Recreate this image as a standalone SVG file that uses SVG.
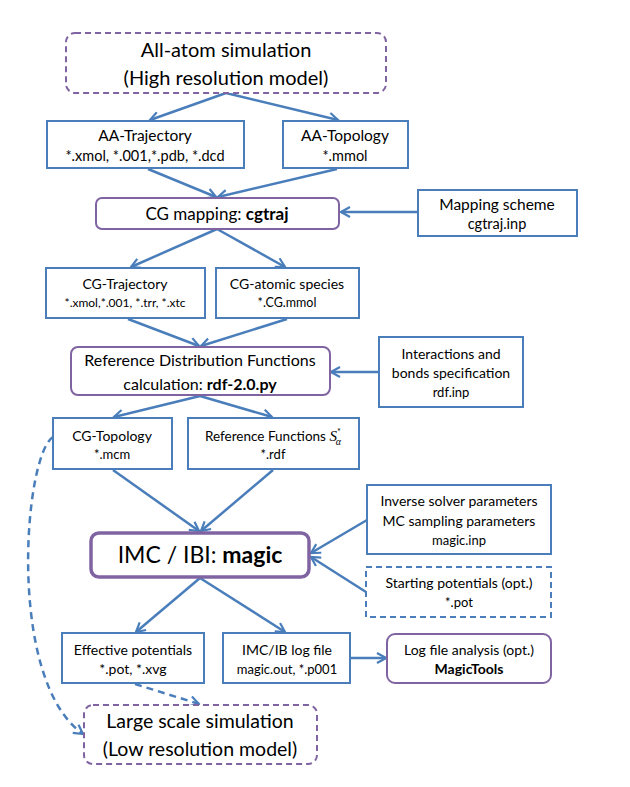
<svg xmlns="http://www.w3.org/2000/svg" width="630" height="787" viewBox="0 0 630 787">
<defs>
<style>
.b{fill:#fff;stroke:#4a7ebb;stroke-width:2}
.bd{fill:#fff;stroke:#4a7ebb;stroke-width:2;stroke-dasharray:6 4}
.p{fill:#fff;stroke:#8064a2;stroke-width:2}
.pd{fill:#fff;stroke:#8064a2;stroke-width:2;stroke-dasharray:6 4}
.pt{fill:#fff;stroke:#8064a2;stroke-width:3.5}
text{font-family:Lato,"Open Sans","Liberation Sans",sans-serif;fill:#000;text-anchor:middle}
.s{font-size:13px}
.m{font-size:14px}
.l{font-size:17px}
.xl{font-size:20px}
.c line,.c path{stroke:#4a7ebb;stroke-width:2.5;fill:none;marker-end:url(#a)}
.dash{stroke-dasharray:7 5}
</style>
<marker id="a" viewBox="0 0 12 12" refX="10.5" refY="6" markerWidth="12" markerHeight="12" orient="auto" markerUnits="userSpaceOnUse">
<path d="M1.5,1 L10.5,6 L1.5,11" fill="none" stroke="#4a7ebb" stroke-width="2.2" stroke-linejoin="miter"/>
</marker>
</defs>
<rect width="630" height="787" fill="#fff"/>
<g class="c">
<line x1="226" y1="93" x2="150" y2="120"/>
<line x1="226" y1="93" x2="338" y2="120"/>
<line x1="148" y1="169" x2="216" y2="197"/>
<line x1="337" y1="169" x2="218" y2="197"/>
<line x1="418" y1="212" x2="341" y2="212"/>
<line x1="217" y1="229" x2="131" y2="267"/>
<line x1="217" y1="229" x2="285" y2="267"/>
<line x1="128" y1="319" x2="199" y2="346"/>
<line x1="287" y1="319" x2="201" y2="346"/>
<line x1="379" y1="372" x2="331" y2="372"/>
<line x1="200" y1="396" x2="114" y2="417"/>
<line x1="200" y1="396" x2="272" y2="417"/>
<line x1="113" y1="470" x2="199" y2="531"/>
<line x1="273" y1="470" x2="201" y2="531"/>
<line x1="367" y1="520" x2="311" y2="553"/>
<line x1="366" y1="592" x2="311" y2="557"/>
<line x1="200" y1="578" x2="136" y2="632"/>
<line x1="200" y1="578" x2="285" y2="632"/>
<line x1="350" y1="658" x2="386" y2="658"/>
<line class="dash" x1="135" y1="684" x2="199" y2="704"/>
<path class="dash" d="M53,437 C24,455 6,680 83,734"/>
</g>
<g id="allatom">
<rect class="pd" x="66" y="33" width="320" height="60" rx="9"/>
<text class="xl" x="226" y="57">All-atom simulation</text>
<text class="xl" x="226" y="85">(High resolution model)</text>
</g>
<g id="aatraj">
<rect class="b" x="47" y="121" width="197" height="47"/>
<text x="145" y="141" font-size="15.5">AA-Trajectory</text>
<text x="145" y="161" font-size="14.5">*.xmol, *.001,*.pdb, *.dcd</text>
</g>
<g id="aatopo">
<rect class="b" x="283" y="121" width="125" height="47"/>
<text x="345" y="141" font-size="15.5">AA-Topology</text>
<text x="345" y="161" font-size="14.5">*.mmol</text>
</g>
<g id="cgmap">
<rect class="p" x="96" y="198" width="243" height="31" rx="6"/>
<text class="l" x="217" y="220">CG mapping: <tspan font-weight="bold">cgtraj</tspan></text>
</g>
<g id="mapscheme">
<rect class="b" x="418" y="190" width="159" height="46"/>
<text x="497" y="210" font-size="15.5">Mapping scheme</text>
<text x="497" y="229" font-size="14.5">cgtraj.inp</text>
</g>
<g id="cgtraj">
<rect class="b" x="46" y="268" width="159" height="50"/>
<text class="m" x="125" y="289">CG-Trajectory</text>
<text x="125" y="307" font-size="12">*.xmol,*.001, *.trr, *.xtc</text>
</g>
<g id="cgspecies">
<rect class="b" x="216" y="268" width="143" height="50"/>
<text class="m" x="287" y="289">CG-atomic species</text>
<text x="287" y="307" font-size="12.5">*.CG.mmol</text>
</g>
<g id="refdist">
<rect class="p" x="71" y="347" width="259" height="48" rx="7"/>
<text x="200" y="366" font-size="16">Reference Distribution Functions</text>
<text x="200" y="390" font-size="16">calculation: <tspan font-weight="bold">rdf-2.0.py</tspan></text>
</g>
<g id="interactions">
<rect class="b" x="379" y="337" width="144" height="70"/>
<text class="m" x="451" y="359">Interactions and</text>
<text class="m" x="451" y="378">bonds specification</text>
<text class="s" x="451" y="397">rdf.inp</text>
</g>
<g id="cgtopo">
<rect class="b" x="53" y="418" width="119" height="51"/>
<text class="m" x="112" y="441">CG-Topology</text>
<text class="s" x="112" y="459">*.mcm</text>
</g>
<g id="reffunc">
<rect class="b" x="188" y="418" width="171" height="51"/>
<text x="273" y="441" font-size="13.5">Reference Functions <tspan font-family="'Liberation Serif',serif" font-style="italic" font-size="15">S</tspan><tspan font-size="9" dy="-6">*</tspan><tspan font-family="'Liberation Serif',serif" font-style="italic" font-size="10" dx="-5" dy="10">α</tspan></text>
<text class="s" x="273" y="459">*.rdf</text>
</g>
<g id="imc">
<rect class="pt" x="91" y="533" width="218" height="44" rx="8"/>
<text x="200" y="563" font-size="23">IMC / IBI: <tspan font-weight="bold">magic</tspan></text>
</g>
<g id="inverse">
<rect class="b" x="367" y="485" width="184" height="69"/>
<text class="m" x="459" y="506">Inverse solver parameters</text>
<text class="m" x="459" y="526">MC sampling parameters</text>
<text class="s" x="459" y="545">magic.inp</text>
</g>
<g id="starting">
<rect class="bd" x="366" y="567" width="185" height="50"/>
<text class="m" x="459" y="588">Starting potentials (opt.)</text>
<text class="s" x="459" y="607">*.pot</text>
</g>
<g id="effective">
<rect class="b" x="62" y="633" width="142" height="50"/>
<text class="m" x="133" y="655">Effective potentials</text>
<text class="m" x="133" y="674">*.pot, *.xvg</text>
</g>
<g id="imclog">
<rect class="b" x="223" y="633" width="127" height="50"/>
<text class="m" x="287" y="655">IMC/IB log file</text>
<text class="s" x="287" y="674">magic.out, *.p001</text>
</g>
<g id="logana">
<rect class="p" x="387" y="634" width="164" height="49" rx="8"/>
<text class="m" x="469" y="655">Log file analysis (opt.)</text>
<text class="m" x="469" y="674" font-weight="bold">MagicTools</text>
</g>
<g id="largescale">
<rect class="pd" x="84" y="705" width="233" height="59" rx="9"/>
<text x="200" y="728" font-size="19.5">Large scale simulation</text>
<text x="200" y="756" font-size="19.5">(Low resolution model)</text>
</g>
</svg>
